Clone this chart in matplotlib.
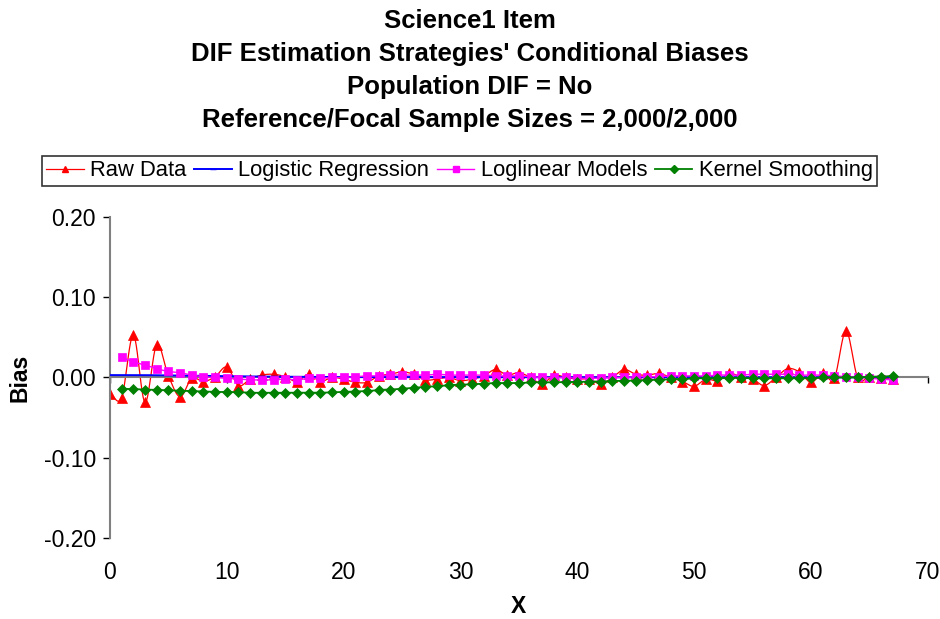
import numpy as np
import matplotlib.pyplot as plt
from matplotlib.lines import Line2D

plt.rcParams['font.family'] = ['Liberation Sans', 'DejaVu Sans']

# score points
x_raw = list(range(0, 68))
x_model = list(range(1, 68))

raw_data = [-0.020, -0.025, 0.053, -0.031, 0.041, 0.002, -0.024, -0.001, -0.005, 0.001,
            0.013, -0.010, -0.002, 0.003, 0.004, 0.001, -0.005, 0.004, -0.005, 0.000,
            -0.002, -0.006, -0.006, 0.002, 0.004, 0.007, 0.004, -0.003, -0.002, 0.000,
            -0.004, -0.002, 0.002, 0.010, 0.003, 0.006, 0.000, -0.008, 0.003, 0.000,
            -0.002, -0.002, -0.008, 0.000, 0.010, 0.004, 0.003, 0.005, 0.000, -0.005,
            -0.011, -0.002, -0.004, 0.005, 0.001, -0.002, -0.010, 0.000, 0.011, 0.007,
            -0.006, 0.005, -0.001, 0.058, 0.000, 0.000, -0.001, -0.002]

logistic = [0.0030, 0.0030, 0.0030, 0.0029, 0.0028, 0.0026, 0.0024, 0.0022, 0.0020, 0.0018,
            0.0016, 0.0014, 0.0012, 0.0011, 0.0010, 0.0009, 0.0008, 0.0007, 0.0006, 0.0005,
            0.0005, 0.0005, 0.0005, 0.0005, 0.0005, 0.0005, 0.0005, 0.0005, 0.0005, 0.0005,
            0.0005, 0.0005, 0.0004, 0.0004, 0.0004, 0.0004, 0.0003, 0.0003, 0.0003, 0.0003,
            0.0002, 0.0002, 0.0002, 0.0002, 0.0002, 0.0002, 0.0002, 0.0002, 0.0002, 0.0002,
            0.0002, 0.0002, 0.0002, 0.0002, 0.0002, 0.0002, 0.0002, 0.0002, 0.0002, 0.0002,
            0.0002, 0.0002, 0.0002, 0.0002, 0.0002, 0.0002, 0.0002, 0.0002]

loglinear = [0.025, 0.0195, 0.0155, 0.011, 0.0075, 0.006, 0.003, 0.001, 0.000, -0.001,
             -0.002, -0.003, -0.003, -0.003, -0.002, -0.003, -0.001, -0.001, 0.000, 0.000,
             0.001, 0.002, 0.002, 0.003, 0.003, 0.003, 0.003, 0.004, 0.003, 0.003,
             0.003, 0.003, 0.002, 0.002, 0.002, 0.001, 0.000, 0.000, 0.000, -0.001,
             -0.001, -0.001, 0.000, 0.000, 0.001, 0.001, 0.001, 0.002, 0.002, 0.002,
             0.002, 0.003, 0.003, 0.003, 0.004, 0.004, 0.004, 0.004, 0.003, 0.003,
             0.003, 0.002, 0.001, 0.000, -0.001, -0.002, -0.003]

kernel = [-0.014, -0.0145, -0.015, -0.0155, -0.016, -0.0165, -0.017, -0.0175, -0.018, -0.018,
          -0.0185, -0.019, -0.019, -0.019, -0.019, -0.019, -0.019, -0.019, -0.0185, -0.018,
          -0.0175, -0.017, -0.0155, -0.015, -0.014, -0.013, -0.0115, -0.011, -0.0095, -0.009,
          -0.0085, -0.0075, -0.007, -0.007, -0.007, -0.006, -0.006, -0.006, -0.0055, -0.0055,
          -0.005, -0.005, -0.0045, -0.004, -0.004, -0.003, -0.003, -0.002, -0.002, -0.001,
          -0.001, -0.001, -0.0005, -0.0005, -0.001, -0.001, -0.001, -0.001, -0.001, -0.001,
          0.000, 0.000, 0.000, 0.000, 0.001, 0.001, 0.002]

title_lines = ["Science1 Item",
               "DIF Estimation Strategies' Conditional Biases",
               "Population DIF = No",
               "Reference/Focal Sample Sizes = 2,000/2,000"]


def smooth(xs, ys, n=12):
    # catmull-rom curve through the points (like excel's smoothed line)
    xs = np.asarray(xs, float)
    ys = np.asarray(ys, float)
    px = np.concatenate([[2 * xs[0] - xs[1]], xs, [2 * xs[-1] - xs[-2]]])
    py = np.concatenate([[2 * ys[0] - ys[1]], ys, [2 * ys[-1] - ys[-2]]])
    t = np.linspace(0, 1, n, endpoint=False)
    ox, oy = [], []
    for i in range(1, len(px) - 2):
        for p, o in ((px, ox), (py, oy)):
            p0, p1, p2, p3 = p[i - 1], p[i], p[i + 1], p[i + 2]
            o.extend(0.5 * (2 * p1 + (-p0 + p2) * t
                            + (2 * p0 - 5 * p1 + 4 * p2 - p3) * t ** 2
                            + (-p0 + 3 * p1 - 3 * p2 + p3) * t ** 3))
    ox.append(xs[-1])
    oy.append(ys[-1])
    return ox, oy


fig = plt.figure(figsize=(9.4, 6.19), dpi=100)
ax = fig.add_axes([0.117, 0.1309, 0.870, 0.5185])

series = [
    (x_raw, raw_data, '#ff0000', '^', 7.5, 0.9, 'Raw Data'),
    (x_raw, logistic, '#0000ff', '_', 4, 1.4, 'Logistic Regression'),
    (x_model, loglinear, '#ff00ff', 's', 6, 1.0, 'Loglinear Models'),
    (x_model, kernel, '#008000', 'D', 5.5, 1.3, 'Kernel Smoothing'),
]

handles = []
for z, (xs, ys, col, mk, ms, lw, lab) in enumerate(series):
    sx, sy = smooth(xs, ys)
    ax.plot(sx, sy, color=col, lw=lw, zorder=2 + z)
    ax.plot(xs, ys, ls='none', marker=mk, ms=ms, color=col, mec=col, mew=0.5, zorder=2 + z)
    handles.append(Line2D([], [], color=col, lw=lw, marker=mk, ms=4, mec=col, label=lab))

ax.set_xlim(0, 70)
ax.set_ylim(-0.2, 0.2)
ax.set_xticks(range(0, 71, 10))
ax.set_yticks([-0.2, -0.1, 0.0, 0.1, 0.2])
ax.set_yticklabels(['%.2f' % v for v in [-0.2, -0.1, 0.0, 0.1, 0.2]])

for s in ['top', 'right']:
    ax.spines[s].set_visible(False)
ax.spines['left'].set_color('#808080')
ax.spines['left'].set_linewidth(1.5)
ax.spines['bottom'].set_position(('data', 0))
ax.spines['bottom'].set_color('#808080')
ax.spines['bottom'].set_linewidth(1.5)

ax.tick_params(axis='y', direction='out', length=5, width=1, labelsize=16.5, pad=5)
ax.tick_params(axis='x', direction='out', length=4, width=1, labelsize=16.5, pad=128)

ax.set_xlabel('X', fontsize=16.5, fontweight='bold', va='center')
ax.set_ylabel('Bias', fontsize=16.5, fontweight='bold', va='center')
ax.xaxis.set_label_coords(0.5, -0.215)
ax.yaxis.set_label_coords(-0.110, 0.5)

for i, line in enumerate(title_lines):
    fig.text(0.5, 1 - (21 + 33 * i) / 619, line, ha='center', va='center',
             fontsize=18.5, fontweight='bold')

leg = fig.legend(handles=handles, loc='center', bbox_to_anchor=(0.489, 0.724), ncol=4,
                 fontsize=15.8, frameon=True, fancybox=False, edgecolor='black',
                 handlelength=1.7, handletextpad=0.3, columnspacing=0.35,
                 borderpad=0.2, borderaxespad=0)
leg.get_frame().set_linewidth(1.2)

fig.savefig('out.png', dpi=100)
